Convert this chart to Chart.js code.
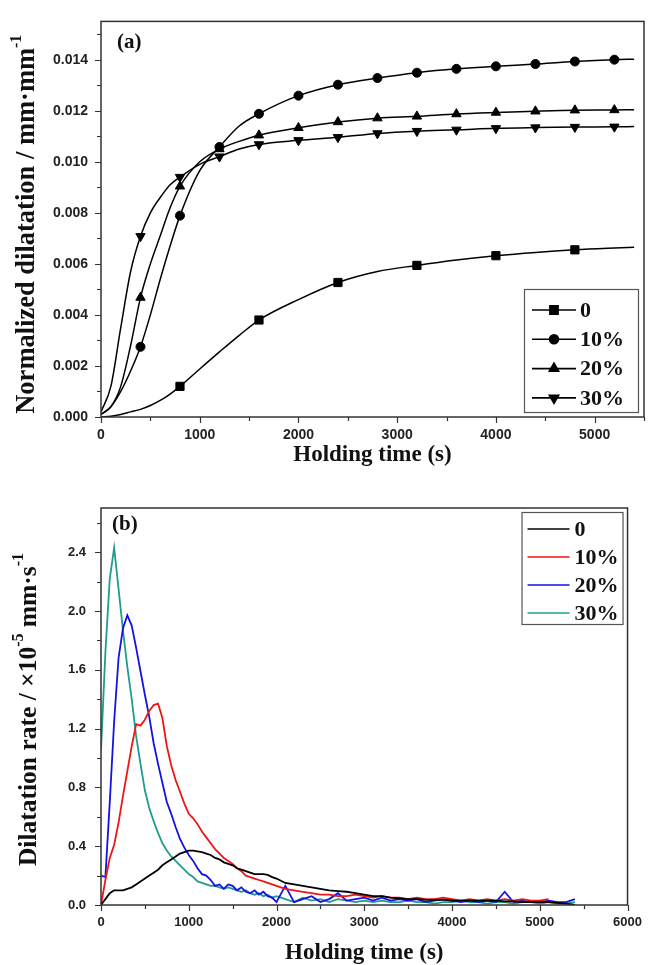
<!DOCTYPE html>
<html><head><meta charset="utf-8">
<script src="https://cdn.jsdelivr.net/npm/chart.js@4.4.1/dist/chart.umd.min.js"></script>
<style>
html,body{margin:0;padding:0;background:#fff;}
#wrapA{position:absolute;left:0;top:0;width:652px;height:470px;}
#wrapB{position:absolute;left:0;top:470px;width:652px;height:495px;}
canvas{display:block;}
</style></head><body>
<div id="wrapA"><canvas id="chartA" width="652" height="470"></canvas></div>
<div id="wrapB"><canvas id="chartB" width="652" height="495"></canvas></div>
<script>
// ---------- Panel (a): normalized dilatation ----------
const timeA = [0,100,200,300,400,500,600,700,800,1000,1200,1400,1600,2000,2400,2800,3200,3600,4000,4400,4800,5200,5400];
const dilation0  = [0,0.00003,0.0001,0.0002,0.0003,0.00045,0.00065,0.0009,0.0012,0.00188,0.00255,0.0032,0.0038,0.0046,0.00527,0.0057,0.00594,0.00615,0.00632,0.00645,0.00655,0.00662,0.00665];
const dilation10 = [0.0001,0.0004,0.0010,0.0018,0.00275,0.0040,0.0054,0.0067,0.00789,0.00965,0.01058,0.0114,0.01188,0.01259,0.01302,0.01328,0.01349,0.01364,0.01374,0.01383,0.01393,0.01400,0.01402];
const dilation20 = [0.0001,0.0004,0.0012,0.0028,0.00468,0.0060,0.0071,0.0082,0.00904,0.0100,0.0105,0.0108,0.01104,0.01133,0.01156,0.01171,0.01178,0.01187,0.01193,0.01198,0.01202,0.01203,0.01204];
const dilation30 = [0.0002,0.0012,0.0035,0.0057,0.00708,0.0080,0.0086,0.0091,0.0094,0.0099,0.0102,0.0105,0.01068,0.01084,0.01096,0.01111,0.0112,0.01125,0.01131,0.01134,0.01136,0.01137,0.01138];
const markerTimes0 = [800,1600,2400,3200,4000,4800];
const markerTimes  = [400,800,1200,1600,2000,2400,2800,3200,3600,4000,4400,4800,5200];
const seriesLabels = ['0','10%','20%','30%'];
const xTicksA = [0,1000,2000,3000,4000,5000];
const xTickLabelsA = ['0','1000','2000','3000','4000','5000'];
const yTicksA = [0,0.002,0.004,0.006,0.008,0.010,0.012,0.014];
const yTickLabelsA = ['0.000','0.002','0.004','0.006','0.008','0.010','0.012','0.014'];

// ---------- Panel (b): dilatation rate ----------
const timeB = [0,50,100,150,200,250,300,350,400,450,500,550,600,650,700,750,800,850,900,950,1000,1050,1100,1150,1200,1250,1300,1350,1400,1450,1500,1550,1600,1650,1700,1750,1800,1850,1900,1950,2000,2100,2200,2300,2400,2500,2600,2700,2800,2900,3000,3100,3200,3300,3400,3500,3600,3700,3800,3900,4000,4100,4200,4300,4400,4500,4600,4700,4800,4900,5000,5100,5200,5300,5400];
const rate0  = [0.00,0.04,0.08,0.10,0.10,0.10,0.11,0.12,0.14,0.16,0.18,0.20,0.22,0.24,0.27,0.29,0.31,0.33,0.35,0.36,0.37,0.37,0.365,0.36,0.35,0.34,0.32,0.31,0.29,0.28,0.27,0.25,0.24,0.23,0.22,0.21,0.21,0.21,0.205,0.19,0.18,
  0.15,0.14,0.13,0.12,0.11,0.10,0.095,0.09,0.08,0.07,0.06,0.06,0.05,0.045,0.04,0.04,0.035,0.035,0.035,0.03,0.03,0.03,0.03,0.03,0.03,0.025,0.025,0.02,0.02,0.02,0.02,0.015,0.01,0.0];
const rate10 = [0.00,0.17,0.32,0.41,0.56,0.74,0.91,1.08,1.23,1.22,1.26,1.32,1.36,1.37,1.27,1.08,0.95,0.85,0.77,0.69,0.62,0.59,0.55,0.50,0.46,0.42,0.38,0.35,0.32,0.30,0.28,0.25,0.23,0.20,0.19,0.18,0.17,0.16,0.15,0.14,0.13,
  0.11,0.10,0.09,0.08,0.07,0.07,0.06,0.06,0.07,0.06,0.05,0.06,0.05,0.05,0.04,0.05,0.04,0.04,0.05,0.04,0.03,0.04,0.03,0.04,0.03,0.04,0.03,0.04,0.03,0.03,0.04,null,null,null];
const rate20 = [0.20,0.19,0.70,1.25,1.68,1.88,1.97,1.90,1.75,1.59,1.43,1.28,1.10,0.96,0.83,0.70,0.62,0.53,0.45,0.39,0.34,0.30,0.25,0.21,0.20,0.17,0.13,0.14,0.11,0.14,0.13,0.10,0.12,0.09,0.08,0.10,0.07,0.09,0.06,0.05,0.02,
  0.13,0.02,0.04,0.06,0.02,0.04,0.08,0.03,0.04,0.05,0.03,0.05,0.03,0.04,0.03,0.04,0.02,0.03,0.04,0.03,0.02,0.03,0.02,0.03,0.02,0.09,0.02,0.03,0.02,0.02,0.03,0.02,0.02,0.04];
const rate30 = [1.05,1.72,2.22,2.43,2.15,1.87,1.62,1.40,1.15,0.96,0.78,0.66,0.57,0.49,0.42,0.37,0.33,0.30,0.27,0.24,0.21,0.19,0.16,0.15,0.14,0.13,0.13,0.12,0.11,0.12,0.11,0.10,0.09,0.10,0.08,0.07,0.08,0.06,0.07,0.05,0.06,
  0.04,0.02,0.05,0.03,0.04,0.02,0.04,0.03,0.02,0.03,0.02,0.03,0.02,0.02,0.03,0.02,0.02,0.01,0.02,0.02,0.03,0.02,0.02,0.01,0.02,0.02,0.01,0.02,0.02,0.01,0.02,0.01,0.01,0.02];
const xTicksB = [0,1000,2000,3000,4000,5000,6000];
const xTickLabelsB = ['0','1000','2000','3000','4000','5000','6000'];
const yTicksB = [0,0.4,0.8,1.2,1.6,2.0,2.4];
const yTickLabelsB = ['0.0','0.4','0.8','1.2','1.6','2.0','2.4'];

// ---------- helpers / plugins ----------
const SERIF = '"Liberation Serif", "Times New Roman", serif';
const SANS = '"Liberation Sans", Arial, sans-serif';
Chart.defaults.font.family = SANS;

const toPts = (xs, ys) => xs.map((t, i) => ({x: t, y: ys[i]}));

const framePlugin = {
  id: 'frameTicks',
  afterDraw(chart, args, o) {
    const {ctx, chartArea: a, scales: {x, y}} = chart;
    ctx.save();
    ctx.strokeStyle = '#333';
    ctx.lineWidth = 1.5;
    ctx.strokeRect(a.left, a.top, a.right - a.left, a.bottom - a.top);
    ctx.lineWidth = 1.2;
    ctx.beginPath();
    const isMajor = (v, m) => Math.abs(v / m - Math.round(v / m)) < 1e-6;
    let n = Math.floor((x.max - x.min) / o.xMinor + 1e-6);
    for (let i = 0; i <= n; i++) {
      const v = x.min + i * o.xMinor;
      const px = Math.round(x.getPixelForValue(v)) + 0.5;
      ctx.moveTo(px, a.bottom); ctx.lineTo(px, a.bottom + (isMajor(v, o.xMajor) ? 6 : 4));
    }
    n = Math.floor((y.max - y.min) / o.yMinor + 1e-6);
    for (let i = 0; i <= n; i++) {
      const v = y.min + i * o.yMinor;
      const py = Math.round(y.getPixelForValue(v)) + 0.5;
      ctx.moveTo(a.left, py); ctx.lineTo(a.left - (isMajor(v, o.yMajor) ? 6 : 4), py);
    }
    ctx.stroke();
    // panel tag
    ctx.fillStyle = '#111';
    ctx.font = 'bold 21px ' + SERIF;
    ctx.textBaseline = 'middle';
    ctx.textAlign = 'left';
    ctx.fillText(o.tag, a.left + o.tagDx, a.top + o.tagDy);
    // rotated y title with superscripts
    ctx.translate(o.yTitleX, (a.top + a.bottom) / 2 + o.yTitleDy);
    ctx.rotate(-Math.PI / 2);
    const size = o.yTitleSize, supSize = Math.round(size * 0.62);
    let total = 0;
    o.yTitle.forEach(s => { ctx.font = 'bold ' + (s.sup ? supSize : size) + 'px ' + SERIF; total += ctx.measureText(s.t).width; });
    let cx = -total / 2;
    o.yTitle.forEach(s => {
      ctx.font = 'bold ' + (s.sup ? supSize : size) + 'px ' + SERIF;
      ctx.fillText(s.t, cx, s.sup ? -size * 0.38 : 0);
      cx += ctx.measureText(s.t).width;
    });
    ctx.restore();
  }
};

const legendPlugin = {
  id: 'boxLegend',
  afterDraw(chart, args, o) {
    const {ctx, chartArea: a} = chart;
    const bx = a.right - o.dxRight, by = o.fromBottom ? a.bottom - o.dy : a.top + o.dy;
    ctx.save();
    ctx.fillStyle = '#fff';
    ctx.fillRect(bx, by, o.w, o.h);
    ctx.strokeStyle = '#555';
    ctx.lineWidth = 1.2;
    ctx.strokeRect(bx + 0.5, by + 0.5, o.w, o.h);
    chart.data.datasets.forEach((ds, i) => {
      const yy = by + o.firstRow + i * o.rowStep;
      ctx.strokeStyle = ds.borderColor;
      ctx.lineWidth = 1.6;
      ctx.beginPath();
      ctx.moveTo(bx + o.lineX0, yy); ctx.lineTo(bx + o.lineX1, yy);
      ctx.stroke();
      if (o.markers) {
        ctx.fillStyle = '#000';
        Chart.helpers.drawPoint(ctx, {pointStyle: ds.pointStyle, rotation: ds.pointRotation || 0, radius: ds.legendRadius, borderWidth: 1}, bx + (o.lineX0 + o.lineX1) / 2, yy);
      }
      ctx.fillStyle = '#111';
      ctx.font = 'bold 22px ' + SERIF;
      ctx.textBaseline = 'middle';
      ctx.textAlign = 'left';
      ctx.fillText(ds.label, bx + o.textX, yy + 1);
    });
    ctx.restore();
  }
};

function fixedTicks(vals) { return scale => { scale.ticks = vals.map(v => ({value: v})); }; }

// ---------- chart (a) ----------
function markerDataset(label, ys, marks, style, radius, rot) {
  return {
    label, data: toPts(timeA, ys),
    borderColor: '#000', backgroundColor: '#000', borderWidth: 1.5,
    cubicInterpolationMode: 'monotone',
    pointStyle: style, pointRotation: rot || 0, legendRadius: radius,
    pointRadius: ctx => (ctx.raw && marks.includes(ctx.raw.x)) ? radius : 0,
    pointBorderColor: '#000', pointBackgroundColor: '#000', pointBorderWidth: 1,
    pointHoverRadius: 0
  };
}

new Chart(document.getElementById('chartA'), {
  type: 'line',
  data: {
    datasets: [
      markerDataset(seriesLabels[0], dilation0, markerTimes0, 'rect', 5.8),
      markerDataset(seriesLabels[1], dilation10, markerTimes, 'circle', 4.5),
      markerDataset(seriesLabels[2], dilation20, markerTimes, 'triangle', 5.4),
      markerDataset(seriesLabels[3], dilation30, markerTimes, 'triangle', 5.4, 180)
    ]
  },
  options: {
    responsive: false, animation: false, events: [],
    layout: {padding: {left: 0, top: 15, right: 8, bottom: 0}},
    scales: {
      x: {
        type: 'linear', min: 0, max: 5500,
        afterBuildTicks: fixedTicks(xTicksA),
        afterFit: s => { s.height = 53; },
        grid: {display: false, drawTicks: false}, border: {display: false},
        ticks: {autoSkip: false, maxRotation: 0, padding: 10, color: '#222', font: {size: 14, weight: 'bold'},
          callback: (v, i) => xTickLabelsA[i]},
        title: {display: true, text: 'Holding time (s)', color: '#111', font: {family: SERIF, size: 23, weight: 'bold', lineHeight: 1}, padding: {top: 0, bottom: 3}}
      },
      y: {
        type: 'linear', min: 0, max: 0.0155,
        afterBuildTicks: fixedTicks(yTicksA),
        afterFit: s => { s.width = 101; },
        grid: {display: false, drawTicks: false}, border: {display: false},
        ticks: {autoSkip: false, padding: 13, color: '#222', font: {size: 14, weight: 'bold'},
          callback: (v, i) => yTickLabelsA[i]}
      }
    },
    plugins: {
      legend: {display: false}, tooltip: {enabled: false},
      frameTicks: {xMinor: 500, xMajor: 1000, yMinor: 0.001, yMajor: 0.002, tag: '(a)', tagDx: 16, tagDy: 21,
        yTitleX: 27, yTitleDy: 5, yTitleSize: 26.5,
        yTitle: [{t: 'Normalized dilatation / mm·mm'}, {t: '-1', sup: true}]},
      boxLegend: {fromBottom: true, dxRight: 120, dy: 128, w: 114, h: 123, firstRow: 21, rowStep: 29.3,
        lineX0: 8, lineX1: 52, textX: 56, markers: true}
    }
  },
  plugins: [framePlugin, legendPlugin]
});

// ---------- chart (b) ----------
const colorsB = ['#000000', '#f01515', '#1212e6', '#1f9c8c'];
const ratesB = [rate0, rate10, rate20, rate30];
new Chart(document.getElementById('chartB'), {
  type: 'line',
  data: {
    datasets: ratesB.map((r, i) => ({
      label: seriesLabels[i], data: toPts(timeB, r),
      borderColor: colorsB[i], borderWidth: 1.8, pointRadius: 0, tension: 0, spanGaps: false
    }))
  },
  options: {
    responsive: false, animation: false, events: [],
    layout: {padding: {left: 0, top: 38, right: 16, bottom: 0}},
    scales: {
      x: {
        type: 'linear', min: 0, max: 6000,
        afterBuildTicks: fixedTicks(xTicksB),
        afterFit: s => { s.height = 60; },
        grid: {display: false, drawTicks: false}, border: {display: false},
        ticks: {autoSkip: false, maxRotation: 0, padding: 10, color: '#222', font: {size: 13, weight: 'bold'},
          callback: (v, i) => xTickLabelsB[i]},
        title: {display: true, text: 'Holding time (s)', color: '#111', font: {family: SERIF, size: 23, weight: 'bold', lineHeight: 1}, padding: {top: 0, bottom: 0}}
      },
      y: {
        type: 'linear', min: 0, max: 2.7,
        afterBuildTicks: fixedTicks(yTicksB),
        afterFit: s => { s.width = 101; },
        grid: {display: false, drawTicks: false}, border: {display: false},
        ticks: {autoSkip: false, padding: 15, color: '#222', font: {size: 13, weight: 'bold'},
          callback: (v, i) => yTickLabelsB[i]}
      }
    },
    plugins: {
      legend: {display: false}, tooltip: {enabled: false},
      frameTicks: {xMinor: 500, xMajor: 1000, yMinor: 0.2, yMajor: 0.4, tag: '(b)', tagDx: 11, tagDy: 17,
        yTitleX: 29, yTitleDy: 3, yTitleSize: 25.5,
        yTitle: [{t: 'Dilatation rate / ×10'}, {t: '-5', sup: true}, {t: ' mm·s'}, {t: '-1', sup: true}]},
      boxLegend: {fromBottom: false, dxRight: 106, dy: 4, w: 101, h: 112, firstRow: 17, rowStep: 28,
        lineX0: 6, lineX1: 48, textX: 53, markers: false}
    }
  },
  plugins: [framePlugin, legendPlugin]
});
</script>
</body></html>
